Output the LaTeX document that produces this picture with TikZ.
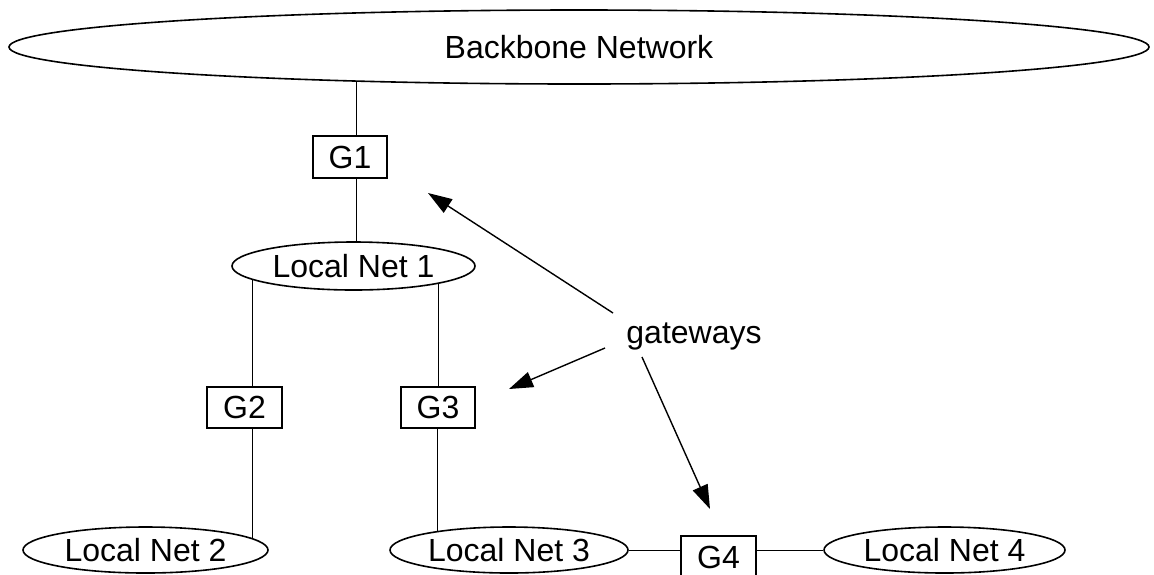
\documentclass[tikz,border=0pt]{standalone}
\usepackage{fontspec}
\setmainfont{Liberation Sans}
\usetikzlibrary{arrows.meta,shapes.geometric}
\begin{document}
\begin{tikzpicture}[x=0.5pt,y=-0.5pt,
  lbl/.style={font=\fontsize{16}{19}\selectfont},
  net/.style={lbl,draw,ellipse,line width=0.8pt,inner sep=0pt},
  gate/.style={lbl,draw,rectangle,line width=0.65pt,inner sep=0pt},
  link/.style={line width=0.5pt},
  pointer/.style={line width=0.7pt,-{Triangle[length=12pt,width=8pt]}}]
\useasboundingbox (0,0) rectangle (1154,574);

% networks
\node[net,minimum width=570pt,minimum height=37pt] (bb) at (579,47) {\makebox[0pt]{Backbone Network}};
\node[net,minimum width=121.5pt,minimum height=24pt] (ln1) at (353.5,266) {\makebox[0pt]{Local Net 1}};
\node[net,minimum width=122.5pt,minimum height=23pt] (ln2) at (145.5,550) {\makebox[0pt]{Local Net 2}};
\node[net,minimum width=119pt,minimum height=23pt] (ln3) at (509,550) {\makebox[0pt]{Local Net 3}};
\node[net,minimum width=120.5pt,minimum height=23pt] (ln4) at (944.5,550) {\makebox[0pt]{Local Net 4}};

% gateways
\node[gate,minimum width=37pt,minimum height=21pt] (g1) at (350,157) {G1};
\node[gate,minimum width=37.5pt,minimum height=20.5pt] (g2) at (244.5,407.5) {G2};
\node[gate,minimum width=37pt,minimum height=20.5pt] (g3) at (438,407.5) {G3};
\node[gate,minimum width=37.5pt,minimum height=21pt] (g4) at (718.5,557) {G4};

% attachment points of the vertical links
\coordinate (g1n) at ([xshift=3pt]g1.north);
\coordinate (g1s) at ([xshift=3pt]g1.south);
\coordinate (g2n) at ([xshift=3.75pt]g2.north);
\coordinate (g2s) at ([xshift=3.75pt]g2.south);
\coordinate (g3s) at ([xshift=-0.5pt]g3.south);

\draw[link] (g1n) -- (g1n |- bb.-171);
\draw[link] (g1s) -- (g1s |- ln1.north);
\draw[link] (g2n) -- (g2n |- ln1.-173);
\draw[link] (g2s) -- (g2s |- ln2.6);
\draw[link] (g3.north) -- (g3.north |- ln1.-12);
\draw[link] (g3s) -- (g3s |- ln3.165);
\draw[link] (ln3.east) -- (ln3.east -| g4.west);
\draw[link] (ln4.west -| g4.east) -- (ln4.west);

% label with pointers
\node[lbl,anchor=base,inner sep=0pt] (gw) at (694,343) {gateways};
\coordinate (s1) at (613,313);
\coordinate (t1) at (428,193);
\coordinate (s2) at (605,348);
\coordinate (t2) at (509,389);
\coordinate (s3) at (642,357);
\coordinate (t3) at (710,509);
\draw[pointer] (s1) -- (t1);
\draw[pointer] (s2) -- (t2);
\draw[pointer] (s3) -- (t3);
\end{tikzpicture}
\end{document}
